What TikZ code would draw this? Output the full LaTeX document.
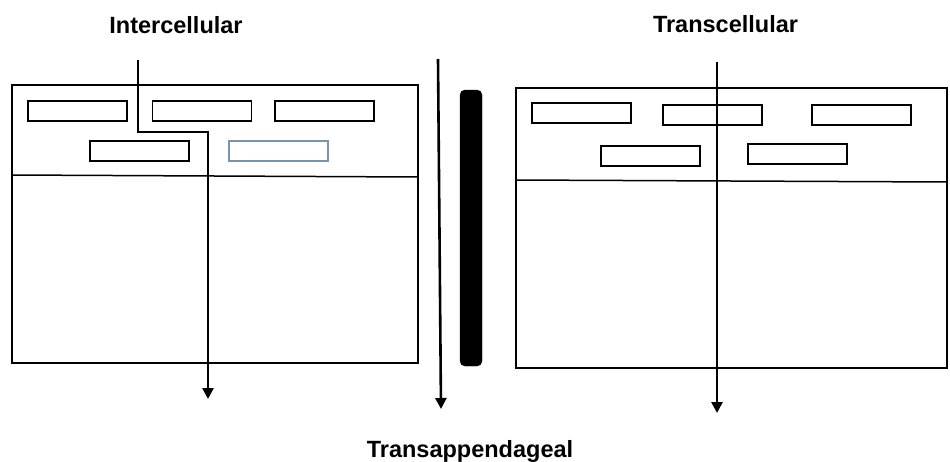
\documentclass[tikz,border=0pt]{standalone}
\usepackage{fontspec}
\setmainfont{Liberation Sans}
\usetikzlibrary{arrows.meta}
\definecolor{slate}{RGB}{120,148,172}
\begin{document}
\begin{tikzpicture}[x=1pt,y=-1pt,
  cellbox/.style={draw=black, line width=1.5pt, inner sep=0pt},
  grain/.style={draw=black, line width=1.5pt, inner sep=0pt, minimum width=99pt, minimum height=20pt},
  bar/.style={fill=black, draw=black, rounded corners=5pt, inner sep=0pt, minimum width=22pt, minimum height=276pt},
  path/.style={line width=2.6pt, -{Triangle[length=11pt,width=11pt]}},
  lbl/.style={font=\fontsize{23.5pt}{28pt}\selectfont\bfseries, anchor=base, inner sep=0pt}]
\useasboundingbox (0,0) rectangle (950,461);
% left skin block
\node[cellbox, minimum width=406pt, minimum height=278pt] (L) at (215,224) {};
\coordinate (Lw) at (12,175);
\coordinate (Le) at (418,177);
\draw[line width=1.5pt] (Lw) -- (Le);
\node[grain] (l1) at (77.5,111) {};
\node[grain] (l2) at (202,111) {};
\node[grain] (l3) at (324.5,111) {};
\node[grain] (l4) at (139.5,151) {};
\node[grain, draw=slate] (l5) at (278.5,151) {};
% right skin block
\node[cellbox, minimum width=431pt, minimum height=280pt] (R) at (731.5,228) {};
\coordinate (Rw) at (516,180);
\coordinate (Re) at (947,182);
\draw[line width=1.5pt] (Rw) -- (Re);
\node[grain] (r1) at (581.5,113) {};
\node[grain] (r2) at (712.5,115) {};
\node[grain] (r3) at (861.5,115) {};
\node[grain] (r4) at (650.5,156) {};
\node[grain] (r5) at (797.5,154) {};
% appendage bar
\node[bar] (B) at (471,228) {};
% routes
\coordinate (i0) at (138,60);
\coordinate (i1) at (208,132);
\coordinate (i2) at (208,399);
\draw[path] (i0) |- (i1) -- (i2);
\coordinate (a0) at (438,59);
\coordinate (a1) at (441,409);
\draw[path] (a0) -- (a1);
\coordinate (t0) at (717,62);
\coordinate (t1) at (717,413);
\draw[path] (t0) -- (t1);
% labels
\node[lbl] (tI) at (176,33) {Intercellular};
\node[lbl] (tT) at (725.5,32) {Transcellular};
\node[lbl] (tA) at (470,457) {Transappendageal};
\end{tikzpicture}
\end{document}
